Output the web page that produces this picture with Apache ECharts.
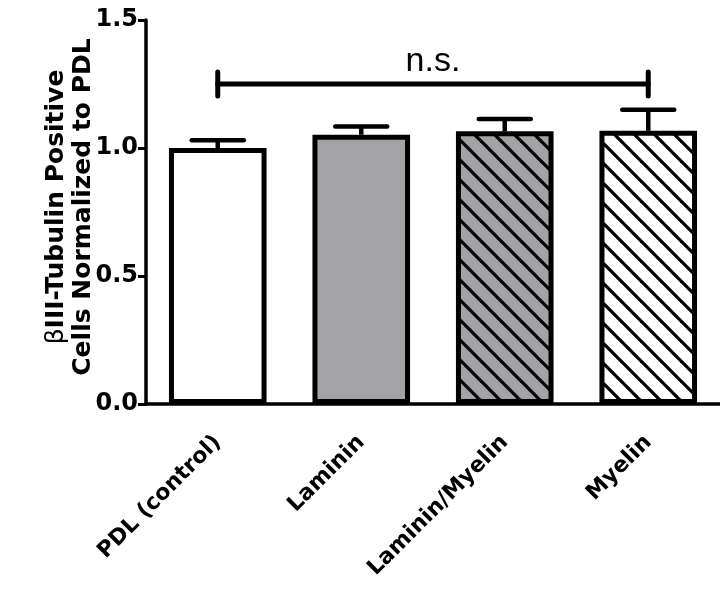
<!DOCTYPE html>
<html>
<head>
<meta charset="utf-8">
<script src="https://cdn.jsdelivr.net/npm/echarts@6/dist/echarts.min.js"></script>
<style>html,body{margin:0;padding:0;background:#fff;}#c{width:720px;height:592px;}</style>
</head>
<body>
<div id="c"></div>
<script>
const categories = ['PDL (control)', 'Laminin', 'Laminin/Myelin', 'Myelin'];
const means = [1.0, 1.052, 1.065, 1.067];
const errors = [0.03, 0.032, 0.048, 0.082];
const yTicks = [0, 0.5, 1.0, 1.5];
const bracketLevel = 1.25;
const bracketFrom = 0, bracketTo = 3;
const bracketLabel = 'n.s.';

function hatch(bg) {
  const T = 20;
  const c = document.createElement('canvas');
  c.width = T; c.height = T;
  const g = c.getContext('2d');
  g.fillStyle = bg; g.fillRect(0, 0, T, T);
  g.strokeStyle = '#000'; g.lineWidth = 3.3; g.lineCap = 'square';
  for (let k = -2; k <= 2; k++) {
    g.beginPath(); g.moveTo(k * T - T, -T); g.lineTo(k * T + 2 * T, 2 * T); g.stroke();
  }
  return { image: c, repeat: 'repeat' };
}
const GREY = '#a3a3a7';
const fills = ['#ffffff', GREY, hatch(GREY), hatch('#ffffff')];

const chart = echarts.init(document.getElementById('c'), null, { renderer: 'canvas' });
const FONT = 'Liberation Sans, Arial, sans-serif';
const WIDE = 'DejaVu Sans, sans-serif';

chart.setOption({
  animation: false,
  backgroundColor: '#fff',
  grid: { left: 146, top: 20, width: 578, height: 384 },
  xAxis: {
    type: 'category', data: categories,
    axisLine: { lineStyle: { color: '#000', width: 3.5 } },
    axisTick: { alignWithLabel: true, length: 10, lineStyle: { color: '#000', width: 3 } },
    axisLabel: { rotate: 45, margin: 35, color: '#000', fontWeight: 'bold', fontSize: 22, fontFamily: WIDE }
  },
  yAxis: {
    type: 'value', min: 0, max: 1.5, interval: 0.5,
    axisLine: { show: true, lineStyle: { color: '#000', width: 3.5 } },
    axisTick: { show: true, length: 8, lineStyle: { color: '#000', width: 3 } },
    splitLine: { show: false },
    axisLabel: { margin: 8, color: '#000', fontWeight: 'bold', fontSize: 24, fontFamily: WIDE,
      formatter: v => yTicks.includes(v) ? v.toFixed(1) : '' }
  },
  graphic: [{
    type: 'text', x: 70, y: 207, rotation: Math.PI / 2,
    style: {
      text: '{g|β}III-Tubulin Positive\nCells Normalized to PDL',
      align: 'center', verticalAlign: 'middle',
      font: 'bold 25px ' + WIDE, fill: '#000', lineHeight: 27,
      rich: { g: { fontFamily: 'DejaVu Sans', fontWeight: 'normal', fontSize: 25, fill: '#000' } }
    }
  }],
  series: [
    {
      type: 'bar', barWidth: '68%',
      data: means.map((v, i) => ({ value: v, itemStyle: { color: fills[i] } })),
      itemStyle: { borderColor: '#000', borderWidth: 5 },
      z: 2
    },
    {
      type: 'custom', z: 3,
      data: means.map((v, i) => [i, v, errors[i]]),
      renderItem: (params, api) => {
        const base = api.coord([api.value(0), api.value(1)]);
        const top = api.coord([api.value(0), api.value(1) + api.value(2)]);
        const st = { stroke: '#000', lineWidth: 4.5 };
        return { type: 'group', children: [
          { type: 'line', shape: { x1: base[0], y1: base[1], x2: top[0], y2: top[1] }, style: st },
          { type: 'line', shape: { x1: top[0] - 26, y1: top[1], x2: top[0] + 26, y2: top[1] }, style: Object.assign({ lineCap: 'round' }, st) }
        ] };
      }
    },
    {
      type: 'custom', z: 3,
      data: [[bracketFrom, bracketTo, bracketLevel]],
      renderItem: (params, api) => {
        const a = api.coord([api.value(0), api.value(2)]);
        const b = api.coord([api.value(1), api.value(2)]);
        const st = { stroke: '#000', lineWidth: 5, lineCap: 'round' };
        return { type: 'group', children: [
          { type: 'line', shape: { x1: a[0], y1: a[1], x2: b[0], y2: b[1] }, style: st },
          { type: 'line', shape: { x1: a[0], y1: a[1] - 12, x2: a[0], y2: a[1] + 12 }, style: st },
          { type: 'line', shape: { x1: b[0], y1: b[1] - 12, x2: b[0], y2: b[1] + 12 }, style: st },
          { type: 'text', style: { text: bracketLabel, x: (a[0] + b[0]) / 2, y: a[1] - 22,
              align: 'center', verticalAlign: 'middle', font: '34px ' + FONT, fill: '#000' } }
        ] };
      }
    }
  ]
});
</script>
</body>
</html>
